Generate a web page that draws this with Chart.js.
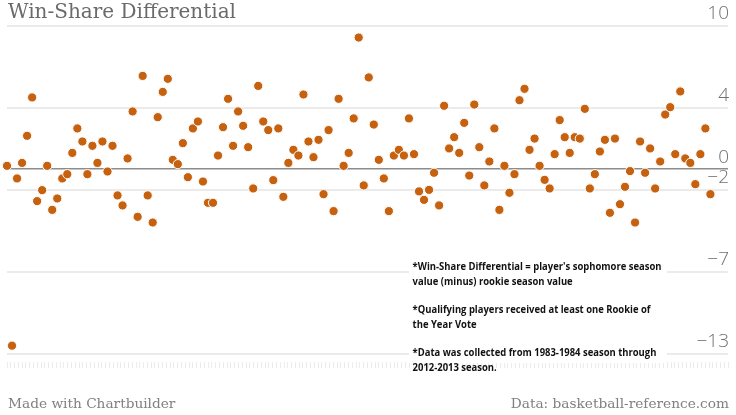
<!DOCTYPE html>
<html>
<head>
<meta charset="utf-8">
<script src="https://cdn.jsdelivr.net/npm/chart.js@4.4.1/dist/chart.umd.min.js"></script>
<style>
  html, body { margin: 0; padding: 0; background: #fff; }
  #wrap { position: relative; width: 736px; height: 415px; overflow: hidden; }
  #chart { position: absolute; left: 0; top: 0; }
  .title { position: absolute; left: 8px; top: -1px; font-family: "DejaVu Serif", serif; font-size: 20px; color: #6a6a6a; white-space: nowrap; }
  .foot { position: absolute; top: 395px; font-family: "DejaVu Serif", serif; font-size: 13.7px; color: #808080; white-space: nowrap; }
  .note { position: absolute; left: 409px; top: 259px; width: 258px; height: 104px; background: #fff; }
  .note div { padding-left: 4px; transform: scaleX(0.9); transform-origin: left top; white-space: nowrap;
          font-family: "Open Sans", sans-serif; font-weight: 700; font-size: 10.5px; line-height: 14.5px; color: #111; }
  .note p { margin: 0 0 14px 0; }
</style>
</head>
<body>
<div id="wrap">
  <canvas id="chart" width="736" height="415"></canvas>
  <div class="title">Win-Share Differential</div>
  <div class="note"><div>
    <p>*Win-Share Differential = player's sophomore season<br>value (minus) rookie season value</p>
    <p>*Qualifying players received at least one Rookie of<br>the Year Vote</p>
    <p>*Data was collected from 1983-1984 season through<br>2012-2013 season.</p>
  </div></div>
  <div class="foot" style="left:8px">Made with Chartbuilder</div>
  <div class="foot" style="right:7px">Data: basketball-reference.com</div>
</div>
<script>
// win-share differential per qualifying player (sophomore minus rookie), in chart order
const winShareDiff = [
  0.24, -12.7, -0.67, 0.45, 2.4, 5.16, -2.3, -1.51, 0.24, -2.93,
  -2.11, -0.67, -0.36, 1.17, 2.93, 1.99, -0.36, 1.68, 0.45, 1.99,
  -0.17, 1.68, -1.89, -2.61, 0.77, 4.15, -3.43, 6.71, -1.89, -3.84,
  3.74, 5.56, 6.5, 0.67, 0.36, 1.87, -0.58, 2.93, 3.43, -0.89,
  -2.42, -2.42, 0.98, 3.02, 5.06, 1.68, 4.15, 3.12, 1.58, -1.39,
  5.99, 3.43, 2.81, -0.79, 2.93, -1.99, 0.45, 1.39, 0.98, 5.37,
  1.99, 0.86, 2.11, -1.8, 2.81, -3.02, 5.06, 0.24, 1.17, 3.65,
  9.47, -1.17, 6.6, 3.21, 0.67, -0.67, -3.02, 0.98, 1.39, 0.98,
  3.65, 1.08, -1.6, -2.21, -1.49, -0.26, -2.61, 4.56, 1.49, 2.3,
  1.17, 3.33, -0.46, 4.65, 1.58, -1.17, 0.55, 2.93, -2.93, 0.24,
  -1.7, -0.36, 4.96, 5.78, 1.39, 2.2, 0.24, -0.77, -1.39, 1.08,
  3.53, 2.3, 1.17, 2.3, 2.2, 4.34, -1.39, -0.36, 1.27, 2.11,
  -3.14, 2.2, -2.52, -1.27, -0.14, -3.84, 1.99, -0.26, 1.49, -1.39,
  0.55, 3.93, 4.46, 1.08, 5.59, 0.77, 0.45, -1.08, 1.08, 2.93,
  -1.8
];

// chartbuilder put its gridlines at uneven values and rounded the labels
const yTickValues = [10.3, 4.4, 0, -1.5, -7.4, -13.3];
const yTickLabels = ['10', '4', '0', '\u22122', '\u22127', '\u221213'];

// the faint tick comb under the plot (decoration only)
const combTickCount = 190;

const points = winShareDiff.map((v, i) => ({ x: i, y: v }));

new Chart(document.getElementById('chart'), {
  type: 'scatter',
  data: {
    datasets: [{
      data: points,
      xAxisID: 'x',
      backgroundColor: '#c6610f',
      borderColor: '#ffffff',
      borderWidth: 1,
      pointRadius: 4.6,
      pointHoverRadius: 4.6,
      clip: false
    }]
  },
  options: {
    responsive: false,
    devicePixelRatio: 1,
    animation: false,
    layout: { padding: { left: 7, right: 6, top: 26, bottom: 47 } },
    plugins: { legend: { display: false }, tooltip: { enabled: false } },
    scales: {
      x: {
        type: 'linear',
        min: 0,
        max: 143.5,
        ticks: { display: false },
        grid: { drawOnChartArea: false, drawTicks: true, tickLength: 8, color: 'rgba(0,0,0,0)' },
        border: { display: false }
      },
      comb: {
        type: 'linear',
        position: 'bottom',
        min: 0,
        max: combTickCount,
        afterBuildTicks: scale => {
          scale.ticks = Array.from({ length: combTickCount + 1 }, (_, i) => ({ value: i }));
        },
        ticks: { display: false },
        grid: { drawOnChartArea: false, drawTicks: true, tickLength: 6, color: '#ececec' },
        border: { display: false }
      },
      y: {
        position: 'right',
        min: -13.3,
        max: 10.3,
        afterBuildTicks: scale => { scale.ticks = yTickValues.map(v => ({ value: v })); },
        ticks: {
          mirror: true,
          padding: 1,
          labelOffset: -12,
          color: '#707070',
          font: { family: '"Open Sans", sans-serif', size: 19, weight: 300 },
          callback: (val, idx) => yTickLabels[idx]
        },
        grid: {
          drawTicks: false,
          lineWidth: ctx => (ctx.tick && ctx.tick.value === 0 ? 1.5 : 2),
          color: ctx => (ctx.tick && ctx.tick.value === 0 ? '#8c8c8c' : '#ebebeb')
        },
        border: { display: false }
      }
    }
  }
});
</script>
</body>
</html>
